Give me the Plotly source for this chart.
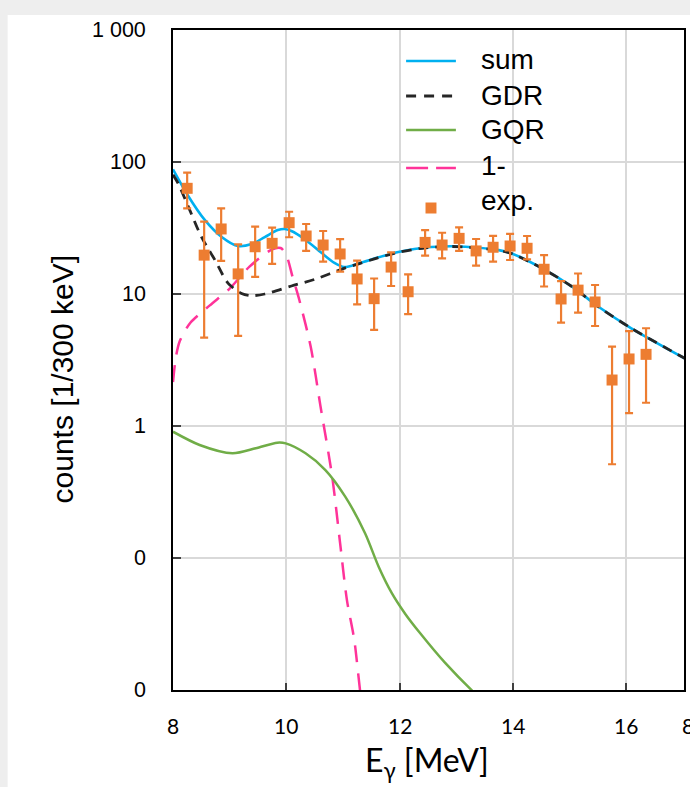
import math
import plotly.graph_objects as go

# ---------------- data ----------------
E_exp = [8.25, 8.55, 8.85, 9.15, 9.45, 9.75, 10.05, 10.35, 10.65, 10.95,
         11.25, 11.55, 11.85, 12.15, 12.45, 12.75, 13.05, 13.35, 13.65, 13.95,
         14.25, 14.55, 14.85, 15.15, 15.45, 15.75, 16.05, 16.35]
counts_exp = [63.2, 19.7, 31.1, 14.2, 22.8, 24.2, 34.7, 27.5, 23.5, 20.1,
              13.0, 9.22, 16.0, 10.4, 24.6, 23.5, 26.4, 21.2, 22.6, 23.1,
              22.2, 15.4, 9.17, 10.7, 8.7, 2.23, 3.22, 3.49]
upper_exp = [83.0, 35.3, 44.6, 23.8, 32.4, 31.8, 42.0, 33.9, 30.0, 26.0,
             17.9, 13.1, 20.7, 14.1, 30.5, 29.1, 32.0, 26.1, 27.6, 28.5,
             27.5, 19.7, 12.5, 14.3, 11.7, 3.99, 5.24, 5.50]
lower_exp = [44.6, 4.67, 17.8, 4.81, 13.5, 16.9, 26.9, 21.2, 17.6, 14.8,
             8.35, 5.34, 11.5, 7.05, 19.5, 18.6, 21.2, 16.4, 17.6, 18.1,
             18.3, 11.4, 6.06, 7.22, 5.72, 0.513, 1.25, 1.50]

E_sum = [8.0, 8.26, 8.56, 8.86, 9.14, 9.39, 9.62, 9.85, 9.97, 10.09, 10.32,
         10.62, 10.85, 11.02, 11.29, 11.6, 11.87, 12.0, 12.46, 12.9, 13.16,
         13.75, 13.98, 14.51, 15.04, 15.51, 16.09, 17.03]
sum_vals = [88, 56, 36.4, 27.0, 23.1, 23.9, 27.0, 30.5, 31.1, 30.0, 26.1,
            20.5, 17.2, 16.0, 17.1, 18.8, 20.3, 20.9, 22.5, 23.0, 22.8,
            21.5, 20.3, 15.7, 11.4, 8.0, 5.5, 3.26]

E_gdr = [8.0, 8.09, 8.27, 8.50, 8.74, 8.97, 9.21, 9.38, 9.62, 10.09, 10.5,
         11.03, 11.29, 11.6, 12.0, 12.46, 12.9, 13.16, 13.75, 13.98, 14.51,
         15.04, 15.51, 16.09, 17.03]
gdr_vals = [80, 69, 45.9, 27.2, 18.1, 12.1, 10.1, 9.71, 10.0, 11.5, 12.9,
            15.7, 17.0, 18.7, 20.8, 22.4, 22.9, 22.7, 21.4, 20.2, 15.7,
            11.4, 8.0, 5.5, 3.26]

E_gqr = [8.0, 8.47, 9.05, 9.46, 9.84, 9.99, 10.34, 10.69, 11.04, 11.39,
         11.63, 11.86, 12.1, 12.36, 12.8, 13.28, 13.6]
gqr_vals = [0.905, 0.718, 0.621, 0.678, 0.748, 0.739, 0.621, 0.464, 0.292,
            0.154, 0.0859, 0.0544, 0.0377, 0.0270, 0.0161, 0.0099, 0.0075]

E_m1 = [8.0, 8.05, 8.12, 8.3, 8.65, 9.0, 9.35, 9.75, 9.9, 10.0, 10.11,
        10.23, 10.43, 10.6, 10.81, 10.95, 11.07, 11.2, 11.32, 11.45]
m1_vals = [2.15, 3.3, 4.4, 6.0, 8.2, 11.0, 16.1, 21.8, 22.3, 19.7, 13.5,
           9.0, 4.0, 1.44, 0.413, 0.129, 0.048, 0.0239, 0.0086, 0.004]

y_tickvals = [0.01, 0.1, 1, 10, 100, 1000]
y_ticktext = ["0", "0", "1", "10", "100", "1 000"]
x_tickvals = [8, 10, 12, 14, 16]
x_ticktext = ["8", "10", "12", "14", "16"]

legend_names = ["sum", "GDR", "GQR", "1-", "exp."]

# ---------------- styling ----------------
C_SUM = "#00b0f0"
C_GDR = "#262626"
C_GQR = "#70ad47"
C_M1 = "#ff3399"
C_EXP = "#ed7d31"

W, H = 690, 787
L, R, T, B = 173, 686, 30, 690


def px(x):
    return (x - L) / (R - L)


def py(y):
    return (B - y) / (B - T)


fig = go.Figure()

fig.add_trace(go.Scatter(x=E_m1, y=m1_vals, mode="lines", name="1-",
                         line=dict(color=C_M1, width=2.5, dash="17px,11px",
                                   shape="spline", smoothing=0.8),
                         showlegend=False))
fig.add_trace(go.Scatter(x=E_gqr, y=gqr_vals, mode="lines", name="GQR",
                         line=dict(color=C_GQR, width=2.5, shape="spline", smoothing=0.8),
                         showlegend=False))
fig.add_trace(go.Scatter(x=E_sum, y=sum_vals, mode="lines", name="sum",
                         line=dict(color=C_SUM, width=2.6, shape="spline", smoothing=0.8),
                         showlegend=False))
fig.add_trace(go.Scatter(x=E_gdr, y=gdr_vals, mode="lines", name="GDR",
                         line=dict(color=C_GDR, width=2.8, dash="10px,7px",
                                   shape="spline", smoothing=0.8),
                         showlegend=False))
fig.add_trace(go.Scatter(
    x=E_exp, y=counts_exp, mode="markers", name="exp.",
    marker=dict(symbol="square", size=11, color=C_EXP),
    error_y=dict(type="data", symmetric=False,
                 array=[u - v for u, v in zip(upper_exp, counts_exp)],
                 arrayminus=[v - lo for v, lo in zip(counts_exp, lower_exp)],
                 color=C_EXP, thickness=2.2, width=4),
    showlegend=False))

shapes = []
# white panel on the light grey slide background
shapes.append(dict(type="rect", xref="paper", yref="paper",
                   x0=px(7), x1=px(692), y0=py(790), y1=py(15),
                   fillcolor="white", line=dict(width=0), layer="below"))
# legend box
shapes.append(dict(type="rect", xref="paper", yref="paper",
                   x0=px(402), x1=px(646), y0=py(229), y1=py(31),
                   fillcolor="white", line=dict(width=0), layer="between"))
leg_rows = [61, 96, 130, 168, 208]
leg_styles = [dict(color=C_SUM, width=2.6),
              dict(color=C_GDR, width=2.8, dash="10px,8px"),
              dict(color=C_GQR, width=2.6),
              dict(color=C_M1, width=2.6, dash="22px,8px")]
for yy, st in zip(leg_rows[:4], leg_styles):
    shapes.append(dict(type="line", xref="paper", yref="paper",
                       x0=px(407), x1=px(457), y0=py(yy), y1=py(yy),
                       line=st, layer="above"))
shapes.append(dict(type="rect", xref="paper", yref="paper",
                   x0=px(426.5), x1=px(437.5), y0=py(213.5), y1=py(202.5),
                   fillcolor=C_EXP, line=dict(width=0), layer="above"))

annotations = []
for yy, name in zip([60, 95, 129, 165, 201], legend_names):
    annotations.append(dict(text=name, xref="paper", yref="paper",
                            x=px(480), y=py(yy), xanchor="left", yanchor="middle",
                            showarrow=False,
                            font=dict(family="Liberation Sans, Arial", size=28, color="black")))
# tick labels (as annotations so their distance to the frame is exact)
for v, t in zip(y_tickvals, y_ticktext):
    annotations.append(dict(text=t, xref="paper", yref="y",
                            x=px(148), y=math.log10(v), xanchor="right", yanchor="middle",
                            showarrow=False,
                            font=dict(family="Liberation Sans, Arial", size=21.5, color="black")))
for v, t in zip(x_tickvals, x_ticktext):
    annotations.append(dict(text=t, xref="x", yref="paper",
                            x=v, y=py(726), xanchor="center", yanchor="middle",
                            showarrow=False,
                            font=dict(family="Lato, Open Sans", size=21, color="black")))
annotations.append(dict(text="counts [1/300 keV]", xref="paper", yref="paper",
                        x=px(62), y=py(379), textangle=-90, xanchor="center",
                        yanchor="middle", showarrow=False,
                        font=dict(family="Liberation Sans, Arial", size=30, color="black")))
annotations.append(dict(text="E<sub>γ</sub> [MeV]", xref="paper", yref="paper",
                        x=px(428), y=py(762), xanchor="center", yanchor="middle",
                        showarrow=False,
                        font=dict(family="Lato, Open Sans", size=32, color="black")))
# first tick label of the neighbouring panel, partly cut by the window edge
annotations.append(dict(text="8", xref="paper", yref="paper",
                        x=px(686), y=py(726), xanchor="left", yanchor="middle",
                        showarrow=False, xshift=-4,
                        font=dict(family="Lato, Open Sans", size=21, color="black")))

fig.update_layout(
    width=W, height=H,
    margin=dict(l=L, r=W - R, t=T, b=H - B, pad=0),
    paper_bgcolor="#eeeeee",
    plot_bgcolor="white",
    showlegend=False,
    shapes=shapes,
    annotations=annotations,
)
fig.update_xaxes(range=[8, 8 + (R - L) / 56.875],
                 tickvals=x_tickvals, showticklabels=False,
                 showgrid=True, gridcolor="#d9d9d9", gridwidth=1.5,
                 showline=True, linecolor="black", linewidth=1.6, mirror=True,
                 ticks="inside", ticklen=7, tickwidth=2, tickcolor="#404040",
                 zeroline=False)
fig.update_yaxes(type="log", range=[-2, 3],
                 tickvals=y_tickvals, showticklabels=False,
                 showgrid=True, gridcolor="#d9d9d9", gridwidth=1.5,
                 showline=True, linecolor="black", linewidth=1.6, mirror=True,
                 ticks="inside", ticklen=8, tickwidth=2, tickcolor="#404040",
                 zeroline=False)

fig.write_html("out.html")
